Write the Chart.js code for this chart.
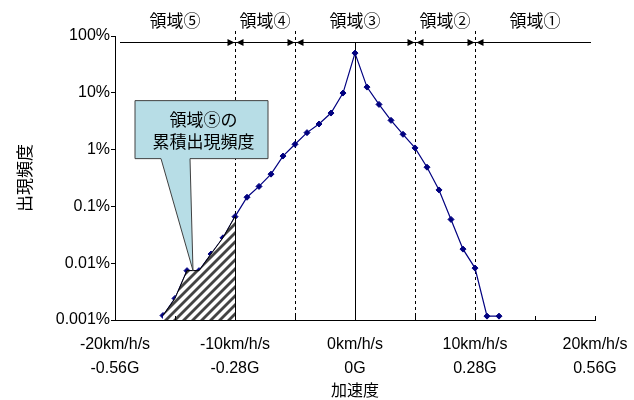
<!DOCTYPE html>
<html><head><meta charset="utf-8">
<script src="https://cdn.jsdelivr.net/npm/chart.js@4/dist/chart.umd.min.js"></script>
<style>html,body{margin:0;padding:0;background:#fff;}#wrap{width:634px;height:400px;}</style>
</head><body><div id="wrap"><canvas id="c" width="634" height="400"></canvas></div>
<script>
// ---- data ----
const accel = [-16,-15,-14,-13,-12,-11,-10,-9,-8,-7,-6,-5,-4,-3,-2,-1,0,1,2,3,4,5,6,7,8,9,10,11,12];
const freq = [0.0012,0.0024,0.0074,0.0074,0.0145,0.028,0.066,0.145,0.225,0.37,0.77,1.24,1.99,2.82,4.4,9.9,50,12.6,6.25,3.27,1.86,1.07,0.49,0.195,0.059,0.0177,0.0082,0.00117,0.00117];
const yTicks = [0.001,0.01,0.1,1,10,100];
const yTickLabels = ['0.001%','0.01%','0.1%','1%','10%','100%'];
const xTicks = [-20,-10,0,10,20];
const xTickKmh = ['-20km/h/s','-10km/h/s','0km/h/s','10km/h/s','20km/h/s'];
const xTickG = ['-0.56G','-0.28G','0G','0.28G','0.56G'];
const xMinorTicks = [-20,-15,-10,-5,0,5,10,15,20];
const regionBounds = [-10,-5,5,10];
const regionLabels = ['領域⑤','領域④','領域③','領域②','領域①'];
const regionCenters = [-15,-7.5,0,7.5,15];
const calloutText = ['領域⑤の','累積出現頻度'];
const calloutAnchor = -14;
const yTitle = '出現頻度';
const xTitle = '加速度';

const JP = '"Noto Sans CJK JP", sans-serif';
Chart.defaults.font.family = '"Liberation Sans", Arial, sans-serif';
Chart.defaults.color = '#000';

const mainPts = accel.map((a,i)=>({x:a,y:freq[i]}));
const hatchPts = mainPts.filter(p=>p.x<=regionBounds[0]);

function makePattern(){
  const s=9, c=document.createElement('canvas'); c.width=s; c.height=s;
  const g=c.getContext('2d');
  g.fillStyle='#fff'; g.fillRect(0,0,s,s);
  g.strokeStyle='#444'; g.lineWidth=2.8;
  [[0,s,s,0],[-s,s,s,-s],[0,2*s,2*s,0]].forEach(([a,b,c2,d])=>{g.beginPath();g.moveTo(a,b);g.lineTo(c2,d);g.stroke();});
  return g.createPattern(c,'repeat');
}

const overlay = {
  id:'overlay',
  beforeDatasetsDraw(chart){
    const {ctx, chartArea:a, scales:{x}} = chart;
    const barY = a.top + 6.5;
    ctx.save();
    ctx.strokeStyle='#000'; ctx.lineWidth=1;
    ctx.setLineDash([3,3]);
    regionBounds.forEach(v=>{const px=Math.round(x.getPixelForValue(v))+0.5;ctx.beginPath();ctx.moveTo(px,a.top-5);ctx.lineTo(px,a.bottom);ctx.stroke();});
    ctx.setLineDash([]);
    const zx=Math.round(x.getPixelForValue(0))+0.5;
    ctx.beginPath();ctx.moveTo(zx,barY);ctx.lineTo(zx,a.bottom);ctx.stroke();
    ctx.restore();
  },
  afterDatasetsDraw(chart){
    const {ctx, chartArea:a, scales:{x,y}} = chart;
    const barY = a.top + 6.5;
    ctx.save();
    ctx.strokeStyle='#000'; ctx.fillStyle='#000'; ctx.lineWidth=1;
    const hx=Math.round(x.getPixelForValue(regionBounds[0]))+0.5;
    const hv=hatchPts[hatchPts.length-1].y;
    ctx.beginPath();ctx.moveTo(hx,y.getPixelForValue(hv));ctx.lineTo(hx,a.bottom);ctx.stroke();
    xMinorTicks.forEach(v=>{const px=Math.round(x.getPixelForValue(v))+0.5;ctx.beginPath();ctx.moveTo(px,a.bottom);ctx.lineTo(px,a.bottom-4);ctx.stroke();});
    ctx.beginPath();ctx.moveTo(a.left+5,barY);ctx.lineTo(a.right-4,barY);ctx.stroke();
    regionBounds.forEach(v=>{
      const px=Math.round(x.getPixelForValue(v))+0.5;
      ctx.beginPath();ctx.moveTo(px-1,barY);ctx.lineTo(px-8,barY-3.5);ctx.lineTo(px-8,barY+3.5);ctx.closePath();ctx.fill();
      ctx.beginPath();ctx.moveTo(px+1,barY);ctx.lineTo(px+8,barY-3.5);ctx.lineTo(px+8,barY+3.5);ctx.closePath();ctx.fill();
    });
    ctx.font='17px '+JP; ctx.textAlign='center'; ctx.textBaseline='middle';
    regionLabels.forEach((t,i)=>ctx.fillText(t,x.getPixelForValue(regionCenters[i]),a.top-15));
    const ai=accel.indexOf(calloutAnchor);
    const tx=(x.getPixelForValue(calloutAnchor)+x.getPixelForValue(accel[ai+1]))/2;
    const ty=y.getPixelForValue(freq[ai]);
    const L=tx-58,R=tx+75,T=ty-170,B=ty-112;
    ctx.beginPath();
    ctx.moveTo(L,T);ctx.lineTo(R,T);ctx.lineTo(R,B);ctx.lineTo(tx-3,B);ctx.lineTo(tx,ty);ctx.lineTo(tx-32,B);ctx.lineTo(L,B);ctx.closePath();
    ctx.fillStyle='#b7dde6';ctx.fill();
    ctx.strokeStyle='#404040';ctx.stroke();
    ctx.fillStyle='#000';ctx.font='17px '+JP;
    ctx.fillText(calloutText[0],(L+R)/2+2,T+19);
    ctx.fillText(calloutText[1],(L+R)/2+2,T+41);
    ctx.restore();
  }
};

new Chart(document.getElementById('c'),{
  type:'line',
  data:{datasets:[
    {data:hatchPts,fill:'start',backgroundColor:makePattern(),borderColor:'#000',borderWidth:1,pointRadius:0,order:1},
    {data:mainPts,borderColor:'#000080',borderWidth:1.2,pointStyle:'rectRot',pointRadius:3,pointBackgroundColor:'#000080',pointBorderColor:'#000080',pointBorderWidth:1,fill:false,order:2}
  ]},
  options:{
    responsive:false,animation:false,devicePixelRatio:1,
    layout:{padding:{top:36,right:39,bottom:0,left:0}},
    plugins:{legend:{display:false},tooltip:{enabled:false}},
    scales:{
      x:{type:'linear',min:-20,max:20,
        afterBuildTicks:s=>{s.ticks=xTicks.map(v=>({value:v}));},
        afterFit:s=>{s.height=80;s.paddingLeft=0;s.paddingRight=0;},
        grid:{display:false,drawTicks:false},
        border:{display:true,color:'#000',width:1},
        ticks:{autoSkip:false,maxRotation:0,padding:13,font:{size:16,lineHeight:1.5},color:'#000',
          callback:v=>{const i=xTicks.indexOf(v);return i<0?'':[xTickKmh[i],xTickG[i]];}},
        title:{display:true,text:xTitle,font:{family:JP,size:16},padding:{top:0,bottom:0},color:'#000'}
      },
      y:{type:'logarithmic',min:0.001,max:100,
        afterBuildTicks:s=>{s.ticks=yTicks.map(v=>({value:v}));},
        afterFit:s=>{s.width=115;s.paddingTop=0;s.paddingBottom=0;},
        grid:{display:true,drawOnChartArea:false,drawTicks:true,tickLength:4,color:'#000'},
        border:{display:true,color:'#000',width:1},
        ticks:{padding:1,font:{size:16},color:'#000',
          callback:v=>{const i=yTicks.indexOf(v);return i<0?'':yTickLabels[i];}},
        title:{display:true,text:yTitle,font:{family:JP,size:17},padding:{top:14,bottom:0},color:'#000'}
      }
    }
  },
  plugins:[overlay]
});
</script></body></html>
